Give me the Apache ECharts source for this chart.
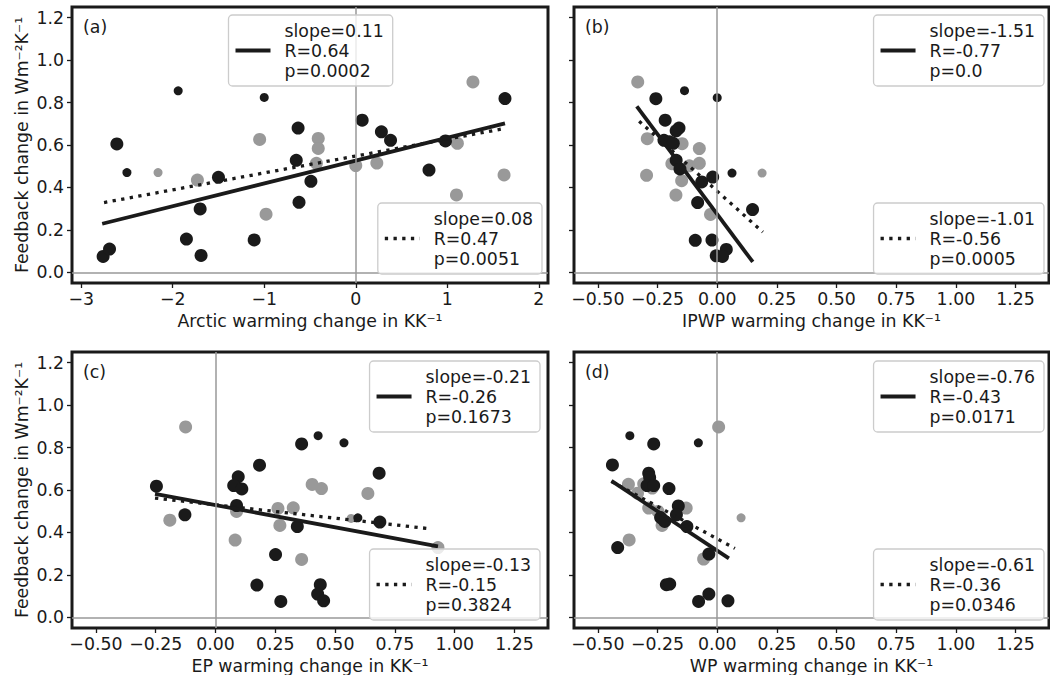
<!DOCTYPE html>
<html><head><meta charset="utf-8">
<script src="https://cdn.jsdelivr.net/npm/echarts@6/dist/echarts.min.js"></script>
<style>html,body{margin:0;padding:0;background:#fff}#c{width:1050px;height:675px}</style>
</head><body><div id="c"></div>
<script>
// ---------- text ----------
const panelLetters = ['(a)', '(b)', '(c)', '(d)'];
const xTitles = ['Arctic warming change in KK⁻¹', 'IPWP warming change in KK⁻¹', 'EP warming change in KK⁻¹', 'WP warming change in KK⁻¹'];
const yTitle = 'Feedback change in Wm⁻²K⁻¹';

// ---------- ticks ----------
const xTicksA = [-3, -2, -1, 0, 1, 2];
const xTicksOther = [-0.5, -0.25, 0, 0.25, 0.5, 0.75, 1.0, 1.25];
const yTicks = [0, 0.2, 0.4, 0.6, 0.8, 1.0, 1.2];

// ---------- panel (a) Arctic ----------
const greyA = [[-1.73,0.435],[-1.05,0.626],[-0.98,0.274],[-0.41,0.631],[-0.41,0.584],[-0.43,0.514],[0.0,0.503],[0.23,0.515],[1.11,0.608],[1.10,0.365],[1.28,0.897],[1.62,0.459]];
const blackA = [[-2.76,0.075],[-2.69,0.110],[-2.61,0.605],[-1.85,0.157],[-1.70,0.299],[-1.69,0.080],[-1.50,0.448],[-1.11,0.153],[-0.63,0.680],[-0.65,0.528],[-0.49,0.429],[-0.62,0.330],[0.07,0.717],[0.28,0.662],[0.38,0.622],[0.80,0.482],[0.98,0.619],[1.63,0.819]];
const blackSmallA = [[-2.50,0.470],[-1.94,0.855],[-1.00,0.824]];
const greySmallA = [[-2.16,0.470]];
const solidA = [[-2.77,0.229],[1.63,0.702]];
const dottedA = [[-2.75,0.329],[1.63,0.678]];
const legSolidA = ['slope=0.11', 'R=0.64', 'p=0.0002'];
const legDottedA = ['slope=0.08', 'R=0.47', 'p=0.0051'];

// ---------- panel (b) IPWP ----------
const greyB = [[-0.333,0.897],[-0.293,0.630],[-0.147,0.606],[-0.075,0.583],[-0.190,0.512],[-0.117,0.502],[-0.075,0.514],[-0.296,0.457],[-0.149,0.432],[-0.173,0.364],[-0.028,0.273]];
const blackB = [[-0.257,0.818],[-0.218,0.717],[-0.160,0.680],[-0.172,0.667],[-0.223,0.622],[-0.200,0.615],[-0.184,0.608],[-0.172,0.528],[-0.156,0.487],[-0.019,0.449],[-0.065,0.426],[-0.082,0.329],[0.148,0.296],[-0.092,0.151],[-0.022,0.152],[0.038,0.108],[-0.004,0.078],[0.022,0.075]];
const blackSmallB = [[-0.137,0.856],[0.0,0.823],[0.062,0.468]];
const greySmallB = [[0.188,0.468]];
const solidB = [[-0.337,0.782],[0.149,0.049]];
const dottedB = [[-0.327,0.712],[0.191,0.19]];
const legSolidB = ['slope=-1.51', 'R=-0.77', 'p=0.0'];
const legDottedB = ['slope=-1.01', 'R=-0.56', 'p=0.0005'];

// ---------- panel (c) EP ----------
const greyC = [[-0.125,0.897],[0.404,0.626],[0.443,0.607],[0.637,0.584],[0.088,0.499],[0.261,0.513],[0.325,0.516],[-0.191,0.458],[0.269,0.433],[0.082,0.364],[0.360,0.273],[0.930,0.329]];
const blackC = [[0.360,0.817],[0.184,0.717],[0.684,0.679],[0.095,0.662],[-0.247,0.618],[0.076,0.621],[0.110,0.605],[0.088,0.527],[0.687,0.449],[-0.128,0.483],[0.342,0.428],[0.251,0.296],[0.173,0.152],[0.438,0.154],[0.427,0.110],[0.452,0.078],[0.273,0.075]];
const blackSmallC = [[0.429,0.856],[0.537,0.822],[0.595,0.469]];
const greySmallC = [[0.567,0.466]];
const solidC = [[-0.253,0.582],[0.930,0.334]];
const dottedC = [[-0.253,0.562],[0.900,0.417]];
const legSolidC = ['slope=-0.21', 'R=-0.26', 'p=0.1673'];
const legDottedC = ['slope=-0.13', 'R=-0.15', 'p=0.3824'];

// ---------- panel (d) WP ----------
const greyD = [[0.006,0.897],[-0.372,0.627],[-0.308,0.629],[-0.272,0.609],[-0.334,0.585],[-0.287,0.515],[-0.130,0.515],[-0.248,0.499],[-0.231,0.433],[-0.369,0.365],[-0.057,0.275]];
const blackD = [[-0.266,0.817],[-0.439,0.718],[-0.287,0.679],[-0.283,0.659],[-0.294,0.621],[-0.266,0.621],[-0.202,0.607],[-0.163,0.525],[-0.171,0.483],[-0.237,0.470],[-0.220,0.452],[-0.127,0.428],[-0.417,0.329],[-0.035,0.298],[-0.213,0.154],[-0.199,0.157],[-0.035,0.110],[-0.078,0.075],[0.045,0.078]];
const blackSmallD = [[-0.366,0.856],[-0.079,0.822]];
const greySmallD = [[0.100,0.469]];
const solidD = [[-0.443,0.643],[0.049,0.278]];
const dottedD = [[-0.443,0.640],[0.074,0.325]];
const legSolidD = ['slope=-0.76', 'R=-0.43', 'p=0.0171'];
const legDottedD = ['slope=-0.61', 'R=-0.36', 'p=0.0346'];

// ---------- build ----------
const BLACK = '#1a1a1a', GREY = '#999999';
const FF = 'DejaVu Sans', FS = 17.33;
const grids = [
  {left: 72, top: 7, width: 476, height: 276},
  {left: 574, top: 7, width: 475, height: 276},
  {left: 72, top: 352, width: 476, height: 277},
  {left: 574, top: 352, width: 475, height: 277}
];
const xRanges = [[-3.1, 2.1], [-0.6, 1.39], [-0.6, 1.39], [-0.6, 1.39]];
const panels = [
  {grey: greyA, black: blackA, bs: blackSmallA, gs: greySmallA, solid: solidA, dotted: dottedA, ls: legSolidA, ld: legDottedA},
  {grey: greyB, black: blackB, bs: blackSmallB, gs: greySmallB, solid: solidB, dotted: dottedB, ls: legSolidB, ld: legDottedB},
  {grey: greyC, black: blackC, bs: blackSmallC, gs: greySmallC, solid: solidC, dotted: dottedC, ls: legSolidC, ld: legDottedC},
  {grey: greyD, black: blackD, bs: blackSmallD, gs: greySmallD, solid: solidD, dotted: dottedD, ls: legSolidD, ld: legDottedD}
];
// legend anchors (layout only)
const legAnchors = [
  [{left: 228.5, top: 15}, {right: 542, bottom: 274}],
  [{right: 1044, top: 15}, {right: 1044, bottom: 274}],
  [{right: 540, top: 361}, {right: 540, bottom: 620}],
  [{right: 1044, top: 361}, {right: 1044, bottom: 620}]
];

const mctx = document.createElement('canvas').getContext('2d');
mctx.font = FS + 'px "' + FF + '"';
const tw = s => mctx.measureText(s).width;
const fmtMinus = s => s.replace('-', '\u2212');

function legendGraphic(lines, dotted, a) {
  const w = 56 + Math.max(...lines.map(tw)) + 9;
  const h = 71;
  const x = a.left !== undefined ? a.left : a.right - w;
  const y = a.top !== undefined ? a.top : a.bottom - h;
  return [
    {type: 'rect', silent: true, z: 100, shape: {x: x, y: y, width: w, height: h, r: 4},
     style: {fill: 'rgba(255,255,255,0.8)', stroke: '#cccccc', lineWidth: 1.3}},
    {type: 'line', silent: true, z: 101, shape: {x1: x + 7, y1: y + 35.5, x2: x + 42, y2: y + 35.5},
     style: {stroke: BLACK, lineWidth: dotted ? 3.3 : 3.8, lineDash: dotted ? [3.3, 5.4] : null}},
    {type: 'text', silent: true, z: 101, x: x + 56, y: y + 35.5,
     style: {text: lines.join('\n'), fontSize: FS, fontFamily: FF, fill: BLACK, verticalAlign: 'middle', align: 'left', lineHeight: 20}}
  ];
}

const option = {
  animation: false,
  backgroundColor: '#ffffff',
  textStyle: {fontFamily: FF},
  grid: grids.map(g => Object.assign({show: true, borderColor: BLACK, borderWidth: 3, backgroundColor: 'transparent'}, g)),
  xAxis: grids.map((g, i) => ({
    type: 'value', gridIndex: i, min: xRanges[i][0], max: xRanges[i][1],
    name: xTitles[i], nameLocation: 'middle', nameGap: 29,
    nameTextStyle: {fontSize: FS, fontFamily: FF, color: BLACK},
    axisLine: {show: false, onZero: false},
    splitLine: {show: false},
    axisTick: {show: true, length: 5, lineStyle: {color: BLACK, width: 1.3}, customValues: i === 0 ? xTicksA : xTicksOther},
    axisLabel: {show: true, margin: 7, fontSize: FS, fontFamily: FF, color: BLACK,
      customValues: i === 0 ? xTicksA : xTicksOther,
      formatter: v => fmtMinus(i === 0 ? String(Math.round(v)) : v.toFixed(2))}
  })),
  yAxis: grids.map((g, i) => ({
    type: 'value', gridIndex: i, min: -0.05, max: 1.25,
    name: (i % 2 === 0) ? yTitle : '', nameLocation: 'middle', nameGap: 42, nameRotate: 90,
    nameTextStyle: {fontSize: FS, fontFamily: FF, color: BLACK},
    axisLine: {show: false, onZero: false},
    splitLine: {show: false},
    axisTick: {show: true, length: 5, lineStyle: {color: BLACK, width: 1.3}, customValues: yTicks},
    axisLabel: {show: i % 2 === 0, margin: 8, fontSize: FS, fontFamily: FF, color: BLACK,
      customValues: yTicks, formatter: v => v.toFixed(1)}
  })),
  series: [],
  graphic: []
};

panels.forEach((p, i) => {
  option.series.push({
    type: 'scatter', xAxisIndex: i, yAxisIndex: i, data: [], silent: true, z: 1,
    markLine: {silent: true, symbol: ['none', 'none'], label: {show: false}, animation: false,
      lineStyle: {color: GREY, width: 1.5, type: 'solid'},
      data: [{xAxis: 0}, {yAxis: 0}]}
  });
  const sc = (data, color, size) => ({type: 'scatter', xAxisIndex: i, yAxisIndex: i, data: data,
    symbol: 'circle', symbolSize: size, silent: true, z: 2, itemStyle: {color: color, opacity: 1}});
  option.series.push(sc(p.grey, GREY, 13));
  option.series.push(sc(p.gs, GREY, 9));
  option.series.push(sc(p.black, BLACK, 13));
  option.series.push(sc(p.bs, BLACK, 9));
  const ln = (data, dotted) => ({type: 'line', xAxisIndex: i, yAxisIndex: i, data: data, symbol: 'none',
    silent: true, z: 3, lineStyle: {color: BLACK, width: dotted ? 3.3 : 3.8, type: dotted ? [3.3, 5.4] : 'solid'}});
  option.series.push(ln(p.dotted, true));
  option.series.push(ln(p.solid, false));
  option.graphic.push(...legendGraphic(p.ls, false, legAnchors[i][0]));
  option.graphic.push(...legendGraphic(p.ld, true, legAnchors[i][1]));
  option.graphic.push({type: 'text', silent: true, z: 101, x: grids[i].left + 11, y: grids[i].top + 20,
    style: {text: panelLetters[i], fontSize: FS, fontFamily: FF, fill: BLACK, verticalAlign: 'middle'}});
});

const chart = echarts.init(document.getElementById('c'), null, {renderer: 'svg'});
chart.setOption(option);
</script>
</body></html>
